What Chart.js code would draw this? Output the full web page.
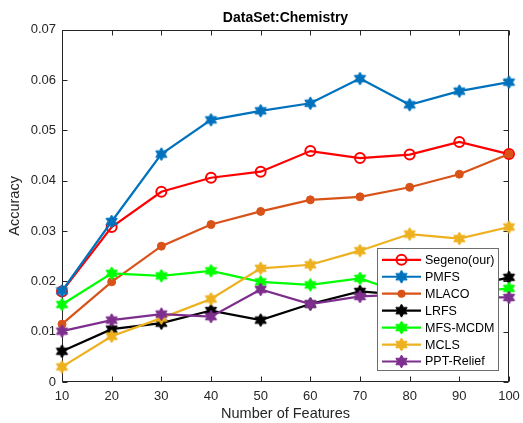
<!DOCTYPE html>
<html>
<head>
<meta charset="utf-8">
<script src="https://cdn.jsdelivr.net/npm/chart.js@4.4.1/dist/chart.umd.min.js"></script>
<style>
  html, body { margin: 0; padding: 0; background: #fff; }
  #wrap { width: 523px; height: 423px; }
</style>
</head>
<body>
<div id="wrap"><canvas id="c" width="523" height="423"></canvas></div>
<script>
// Number of selected features (x axis) and tick values
const features = [10, 20, 30, 40, 50, 60, 70, 80, 90, 100];
const xTicks = [10, 20, 30, 40, 50, 60, 70, 80, 90, 100];
const yTicks = [0, 0.01, 0.02, 0.03, 0.04, 0.05, 0.06, 0.07];

// Accuracy of each method
const segeno    = [0.0180, 0.0308, 0.0378, 0.0406, 0.0418, 0.0459, 0.0445, 0.0452, 0.0477, 0.0453];
const pmfs      = [0.0181, 0.0319, 0.0453, 0.0521, 0.0539, 0.0554, 0.0603, 0.0551, 0.0578, 0.0596];
const mlaco     = [0.0115, 0.0199, 0.0270, 0.0313, 0.0339, 0.0362, 0.0368, 0.0387, 0.0413, 0.0453];
const lrfs      = [0.0061, 0.0105, 0.0117, 0.0142, 0.0123, 0.0155, 0.0180, 0.0172, 0.0185, 0.0208];
const mfsMcdm   = [0.0154, 0.0216, 0.0211, 0.0221, 0.0199, 0.0193, 0.0206, 0.0172, 0.0176, 0.0186];
const mcls      = [0.0030, 0.0091, 0.0127, 0.0165, 0.0226, 0.0233, 0.0261, 0.0294, 0.0285, 0.0308];
const pptRelief = [0.0101, 0.0123, 0.0135, 0.0130, 0.0184, 0.0155, 0.0170, 0.0174, 0.0168, 0.0168];

const seriesNames = ['Segeno(our)', 'PMFS', 'MLACO', 'LRFS', 'MFS-MCDM', 'MCLS', 'PPT-Relief'];
const seriesValues = [segeno, pmfs, mlaco, lrfs, mfsMcdm, mcls, pptRelief];
const seriesColors = ['#FF0000', '#0072BD', '#D95319', '#000000', '#00FF00', '#EDB120', '#7E2F8E'];
const seriesMarkers = ['ring', 'hexagram', 'dot', 'hexagram', 'hexagram', 'hexagram', 'hexagram'];

const FONT = '"Liberation Sans", Arial, Helvetica, sans-serif';
const TEXT = '#262626';

// Six-pointed filled star, rendered once per colour and reused as a point image
function hexagram(color, r) {
  const size = Math.ceil(2 * r + 2);
  const cv = document.createElement('canvas');
  cv.width = size; cv.height = size;
  const g = cv.getContext('2d');
  const c = size / 2;
  const ri = r / Math.sqrt(3);
  g.beginPath();
  for (let k = 0; k < 12; k++) {
    const rad = (k % 2 === 0) ? r : ri;
    const a = (-90 + k * 30) * Math.PI / 180;
    const px = c + rad * Math.cos(a), py = c + rad * Math.sin(a);
    if (k === 0) g.moveTo(px, py); else g.lineTo(px, py);
  }
  g.closePath();
  g.fillStyle = color;
  g.strokeStyle = color;
  g.lineWidth = 1;
  g.fill();
  g.stroke();
  return cv;
}

function markerProps(kind, color) {
  if (kind === 'ring') {
    return { pointStyle: 'circle', pointRadius: 5, pointBorderWidth: 2,
             pointBackgroundColor: 'rgba(0,0,0,0)', pointBorderColor: color };
  }
  if (kind === 'dot') {
    return { pointStyle: 'circle', pointRadius: 4, pointBorderWidth: 1,
             pointBackgroundColor: color, pointBorderColor: color };
  }
  return { pointStyle: hexagram(color, 6.5), pointRadius: 6,
           pointBackgroundColor: color, pointBorderColor: color };
}

const datasets = seriesNames.map((name, i) => Object.assign({
  label: name,
  data: features.map((f, j) => ({ x: f, y: seriesValues[i][j] })),
  borderColor: seriesColors[i],
  backgroundColor: seriesColors[i],
  borderWidth: 2.2,
  tension: 0,
  fill: false,
  clip: false,
  order: seriesNames.length - i,   // later series drawn on top
  markerKind: seriesMarkers[i]
}, markerProps(seriesMarkers[i], seriesColors[i])));

// Axes box with inward tick marks on all four sides
const axesBox = {
  id: 'axesBox',
  beforeDatasetsDraw(chart) {
    const { ctx, chartArea: a, scales: { x, y } } = chart;
    ctx.save();
    ctx.strokeStyle = TEXT;
    ctx.lineWidth = 1;
    const L = Math.round(a.left) + 0.5, R = Math.round(a.right) - 0.5;
    const T = Math.round(a.top) + 0.5, B = Math.round(a.bottom) - 0.5;
    ctx.strokeRect(L, T, R - L, B - T);
    const len = 5;
    ctx.beginPath();
    xTicks.forEach(v => {
      const px = Math.round(x.getPixelForValue(v)) + 0.5;
      ctx.moveTo(px, B); ctx.lineTo(px, B - len);
      ctx.moveTo(px, T); ctx.lineTo(px, T + len);
    });
    yTicks.forEach(v => {
      const py = Math.round(y.getPixelForValue(v)) + 0.5;
      ctx.moveTo(L, py); ctx.lineTo(L + len, py);
      ctx.moveTo(R, py); ctx.lineTo(R - len, py);
    });
    ctx.stroke();
    ctx.restore();
  }
};

// Legend box placed inside the lower right of the plot
const insideLegend = {
  id: 'insideLegend',
  afterDraw(chart) {
    const { ctx, chartArea: a } = chart;
    const boxL = a.right - 132, boxR = a.right - 11;
    const boxT = a.top + 218, boxB = a.top + 340;
    ctx.save();
    ctx.fillStyle = '#ffffff';
    ctx.fillRect(boxL, boxT, boxR - boxL, boxB - boxT);
    ctx.strokeStyle = '#6e6e6e';
    ctx.lineWidth = 1;
    ctx.strokeRect(Math.round(boxL) + 0.5, Math.round(boxT) + 0.5,
                   Math.round(boxR - boxL), Math.round(boxB - boxT));
    ctx.font = '12.5px ' + FONT;
    ctx.textBaseline = 'middle';
    ctx.textAlign = 'left';
    chart.data.datasets.forEach((ds, i) => {
      const cy = boxT + 12 + i * 16.95;
      const x0 = boxL + 5, x1 = boxL + 44, xm = (x0 + x1) / 2;
      ctx.strokeStyle = ds.borderColor;
      ctx.lineWidth = 2.2;
      ctx.beginPath(); ctx.moveTo(x0, cy); ctx.lineTo(x1, cy); ctx.stroke();
      if (ds.markerKind === 'ring') {
        ctx.beginPath(); ctx.arc(xm, cy, 5, 0, Math.PI * 2);
        ctx.lineWidth = 2; ctx.stroke();
      } else if (ds.markerKind === 'dot') {
        ctx.beginPath(); ctx.arc(xm, cy, 4, 0, Math.PI * 2);
        ctx.fillStyle = ds.borderColor; ctx.fill();
      } else {
        const img = ds.pointStyle;
        ctx.drawImage(img, xm - img.width / 2, cy - img.height / 2);
      }
      ctx.fillStyle = '#000000';
      ctx.fillText(ds.label, boxL + 48, cy + 0.5);
    });
    ctx.restore();
  }
};

new Chart(document.getElementById('c'), {
  type: 'line',
  data: { datasets },
  plugins: [axesBox, insideLegend],
  options: {
    responsive: false,
    animation: false,
    events: [],
    layout: { padding: { left: 0, right: 14, top: 0, bottom: 0 } },
    plugins: {
      legend: { display: false },
      tooltip: { enabled: false },
      title: {
        display: true,
        text: 'DataSet:Chemistry',
        fullSize: false,
        color: '#000000',
        font: { family: FONT, size: 14, weight: 'bold' },
        padding: { top: 10, bottom: 3 }
      }
    },
    scales: {
      x: {
        type: 'linear',
        min: 10, max: 100,
        afterBuildTicks(s) { s.ticks = xTicks.map(v => ({ value: v })); },
        afterFit(s) { s.height = 41; s.paddingLeft = 0; s.paddingRight = 0; },
        grid: { display: false, drawTicks: false },
        border: { display: false },
        ticks: {
          color: TEXT, padding: 7, maxRotation: 0, autoSkip: false,
          font: { family: FONT, size: 13 },
          callback: v => String(v)
        },
        title: {
          display: true, text: 'Number of Features', color: TEXT,
          font: { family: FONT, size: 14.5 },
          padding: { top: 0, bottom: 0 }
        }
      },
      y: {
        type: 'linear',
        min: 0, max: 0.07,
        afterBuildTicks(s) { s.ticks = yTicks.map(v => ({ value: v })); },
        afterFit(s) { s.width = 62; },
        grid: { display: false, drawTicks: false },
        border: { display: false },
        ticks: {
          color: TEXT, padding: 6, autoSkip: false,
          font: { family: FONT, size: 13 },
          callback: v => (v === 0 ? '0' : v.toFixed(2))
        },
        title: {
          display: true, text: 'Accuracy', color: TEXT,
          font: { family: FONT, size: 14.5 },
          padding: { top: 6, bottom: 0 }
        }
      }
    }
  }
});
</script>
</body>
</html>
